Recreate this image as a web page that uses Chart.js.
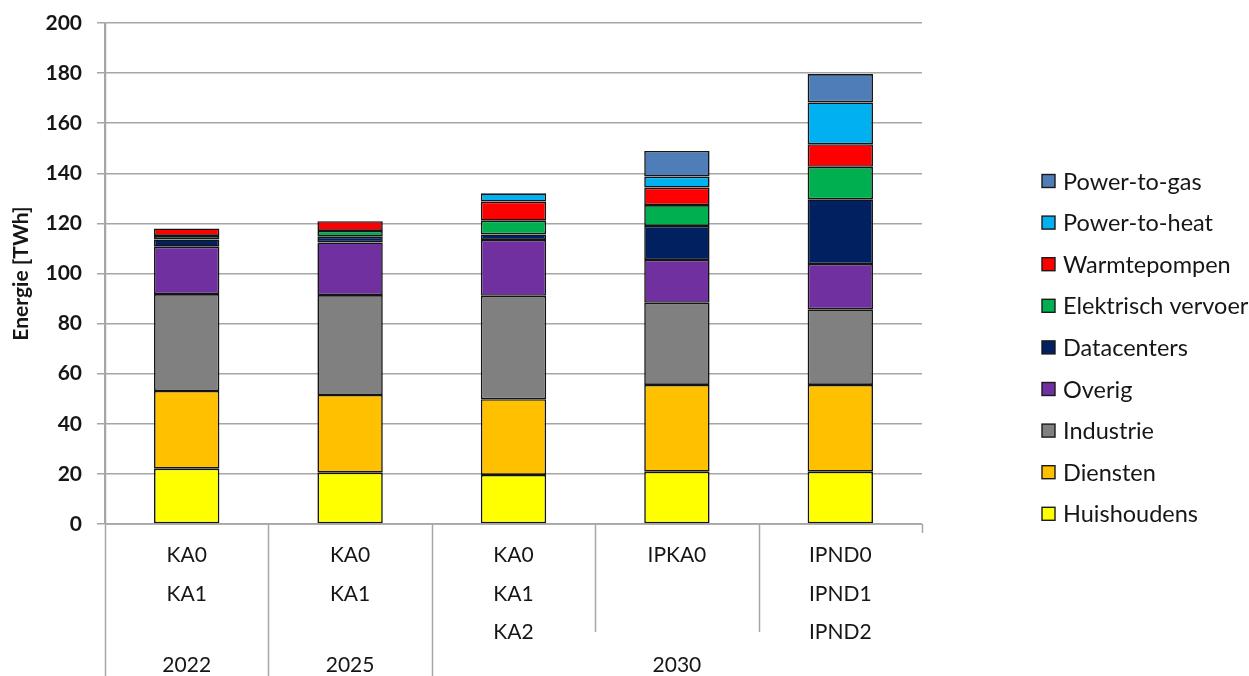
<!DOCTYPE html>
<html>
<head>
<meta charset="utf-8">
<script src="https://cdn.jsdelivr.net/npm/chart.js@4.4.1/dist/chart.umd.min.js"></script>
<style>
  html, body { margin: 0; padding: 0; background: #ffffff; }
  #wrap { width: 1249px; height: 676px; }
</style>
</head>
<body>
<div id="wrap"><canvas id="chart" width="1249" height="676"></canvas></div>
<script>
// Scenario labels per bar (multi-line) and the year groups beneath them
const scenarios = [['KA0', 'KA1'], ['KA0', 'KA1'], ['KA0', 'KA1', 'KA2'], ['IPKA0'], ['IPND0', 'IPND1', 'IPND2']];
const yearLabels = ['2022', '2025', '2030'];
const yearSpans = [1, 1, 3];

// Electricity demand per sector [TWh]
const huishoudens   = [22.1, 20.5, 19.6, 20.9, 20.9];
const diensten      = [31.0, 31.0, 30.2, 34.6, 34.6];
const industrie     = [38.7, 39.9, 41.3, 32.8, 30.2];
const overig        = [18.9, 21.0, 22.3, 17.1, 18.1];
const datacenters   = [2.9, 2.3, 2.2, 13.6, 25.8];
const elektrisch    = [1.4, 2.3, 5.5, 8.3, 13.0];
const warmtepompen  = [3.0, 3.9, 7.6, 7.0, 9.0];
const powerToHeat   = [null, null, 3.3, 4.4, 16.7];
const powerToGas    = [null, null, null, 10.2, 11.3];

const seriesNames = ['Huishoudens', 'Diensten', 'Industrie', 'Overig', 'Datacenters',
                     'Elektrisch vervoer', 'Warmtepompen', 'Power-to-heat', 'Power-to-gas'];
const seriesValues = [huishoudens, diensten, industrie, overig, datacenters,
                      elektrisch, warmtepompen, powerToHeat, powerToGas];
const seriesColors = ['#FFFF00', '#FFC000', '#808080', '#7030A0', '#002060',
                      '#00B050', '#FF0000', '#00B0F0', '#4F7DB8'];

// Y axis range
const yMin = 0, yMax = 200, yStep = 20;

// Year labels on a second category axis, placed in the middle category of each group
const yearRow = [];
yearSpans.forEach((span, g) => {
  for (let k = 0; k < span; k++) yearRow.push(k === Math.floor(span / 2) ? yearLabels[g] : '');
});

const axisColor = '#a6a6a6';
const textColor = '#161616';
const labelFont = 'Lato, "Open Sans", sans-serif';

// Category separators below the axis (long between year groups, short within a group)
const categoryFrame = {
  id: 'categoryFrame',
  afterDraw(chart) {
    const { ctx, chartArea: a, scales: { x } } = chart;
    const n = scenarios.length;
    const step = x.getPixelForValue(1) - x.getPixelForValue(0);
    const groupEdges = new Set();
    let acc = 0;
    yearSpans.forEach(s => { acc += s; groupEdges.add(acc); });
    ctx.save();
    ctx.strokeStyle = axisColor;
    ctx.lineWidth = 1.5;
    ctx.beginPath();
    ctx.moveTo(a.left, a.bottom);
    ctx.lineTo(a.right, a.bottom);
    for (let i = 0; i <= n; i++) {
      const px = Math.round(x.getPixelForValue(0) - step / 2 + i * step) + 0.5;
      let end;
      if (i === 0) end = chart.height;
      else if (i === n) end = a.bottom + 9;
      else if (groupEdges.has(i)) end = chart.height;
      else end = a.bottom + 108;
      ctx.moveTo(px, i === 0 ? a.top : a.bottom);
      ctx.lineTo(px, end);
    }
    ctx.stroke();
    ctx.restore();
  }
};

// Legend on the right, topmost series first
const sideLegend = {
  id: 'sideLegend',
  afterDraw(chart) {
    const { ctx } = chart;
    const ds = chart.data.datasets;
    const x0 = 1042, box = 13, textX = 1063, firstY = 181, rowH = 41.6;
    ctx.save();
    ctx.font = '23.5px ' + labelFont;
    ctx.textBaseline = 'middle';
    ctx.textAlign = 'left';
    for (let i = ds.length - 1, r = 0; i >= 0; i--, r++) {
      const cy = firstY + r * rowH;
      ctx.fillStyle = ds[i].backgroundColor;
      ctx.fillRect(x0, cy - box / 2, box, box);
      ctx.strokeStyle = '#1a1a1a';
      ctx.lineWidth = 1.4;
      ctx.strokeRect(x0, cy - box / 2, box, box);
      ctx.fillStyle = textColor;
      ctx.fillText(ds[i].label, textX, cy + 1);
    }
    ctx.restore();
  }
};

new Chart(document.getElementById('chart'), {
  type: 'bar',
  data: {
    labels: scenarios,
    datasets: seriesNames.map((name, i) => ({
      label: name,
      data: seriesValues[i],
      backgroundColor: seriesColors[i],
      borderColor: '#141414',
      borderWidth: 1.6,
      borderSkipped: false,
      categoryPercentage: 1.0,
      barPercentage: 0.4
    }))
  },
  options: {
    responsive: false,
    animation: false,
    devicePixelRatio: 1,
    layout: { padding: { left: 0, top: 23, right: 327, bottom: 0 } },
    plugins: {
      legend: { display: false },
      tooltip: { enabled: false }
    },
    scales: {
      x: {
        type: 'category',
        stacked: true,
        position: 'bottom',
        weight: 0,
        offset: true,
        grid: { display: false, drawTicks: false },
        border: { display: false },
        ticks: {
          autoSkip: false,
          maxRotation: 0,
          padding: 12,
          color: textColor,
          font: { family: labelFont, size: 21, lineHeight: 1.84 }
        },
        afterFit(scale) { scale.height = 120; }
      },
      x2: {
        type: 'category',
        labels: yearRow,
        position: 'bottom',
        weight: 1,
        offset: true,
        grid: { display: false, drawTicks: false },
        border: { display: false },
        ticks: {
          autoSkip: false,
          maxRotation: 0,
          padding: 9,
          color: textColor,
          font: { family: labelFont, size: 21, lineHeight: 1.2 }
        },
        afterFit(scale) { scale.height = 32; }
      },
      y: {
        stacked: true,
        min: yMin,
        max: yMax,
        ticks: {
          stepSize: yStep,
          padding: 15,
          color: textColor,
          font: { family: labelFont, size: 21, weight: 'bold' }
        },
        grid: { color: axisColor, lineWidth: 1.5, tickLength: 8 },
        border: { display: true, color: axisColor, width: 1.5 },
        title: {
          display: true,
          text: 'Energie [TWh]',
          color: textColor,
          padding: { top: 9, bottom: 0 },
          font: { family: labelFont, size: 21, weight: 'bold' }
        },
        afterFit(scale) {
          scale.width = 105;
          scale.paddingTop = 0;
          scale.paddingBottom = 0;
        }
      }
    }
  },
  plugins: [categoryFrame, sideLegend]
});
</script>
</body>
</html>
